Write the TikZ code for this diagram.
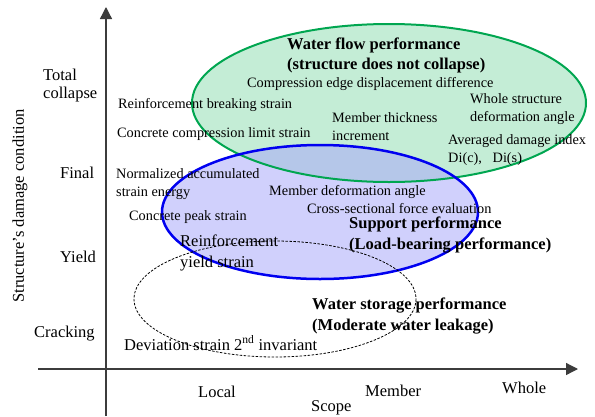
\documentclass[tikz,border=0pt]{standalone}
\usepackage{fontspec}
\setmainfont{Liberation Serif}
\usetikzlibrary{arrows.meta}

\definecolor{flowline}{RGB}{0,166,80}
\definecolor{flowfill}{RGB}{190,235,210}
\definecolor{supportline}{RGB}{0,0,240}
\definecolor{supportfill}{RGB}{170,170,250}
\definecolor{axisgray}{RGB}{60,60,60}

\tikzset{
  txt/.style={inner sep=0pt, anchor=west, align=left,
    font=\fontsize{14.3}{18}\selectfont},
  txtbig/.style={inner sep=0pt, anchor=west, align=left,
    font=\fontsize{16.5}{18}\selectfont},
  txtbold/.style={inner sep=0pt, anchor=west, align=left,
    font=\fontsize{16.5}{20.5}\selectfont\bfseries},
  axisline/.style={draw=axisgray, line width=1.3pt,
    -{Triangle[length=12pt,width=12pt]}},
}

\begin{document}
\begin{tikzpicture}[x=1pt, y=-1pt]
  \useasboundingbox (0,0) rectangle (595,416);

  % axes
  \coordinate (xstart) at (38,369);
  \coordinate (xend) at (578,369);
  \coordinate (ystart) at (106,416);
  \coordinate (yend) at (106,7);
  \draw[axisline] (xstart) -- (xend);
  \draw[axisline] (ystart) -- (yend);

  % performance zones: fills first, outlines on top
  \fill[flowfill, opacity=0.9] (389,103) ellipse [x radius=197, y radius=79];
  \fill[supportfill, fill opacity=0.55] (320,212) ellipse [x radius=158, y radius=67];
  \draw[flowline, line width=2pt] (389,103) ellipse [x radius=197, y radius=79];
  \draw[supportline, line width=2.5pt] (320,212) ellipse [x radius=158, y radius=67];
  \draw[black, line width=0.8pt, dash pattern=on 2.5pt off 1.5pt]
    (275,299) ellipse [x radius=141, y radius=58];

  % damage levels
  \node[txtbig] (lvltotal) at (43,86) {Total\\collapse};
  \node[txtbig] (lvlfinal) at (60,173) {Final};
  \node[txtbig] (lvlyield) at (60,257) {Yield};
  \node[txtbig] (lvlcrack) at (34,334) {Cracking};
  \node[txtbig, anchor=center, rotate=90] (ylabel) at (20,206)
    {Structure's damage condition};

  % scope levels
  \node[txtbig] (sclocal) at (198,392) {Local};
  \node[txtbig] (scmember) at (365,391) {Member};
  \node[txtbig] (scwhole) at (502,388) {Whole};
  \node[txtbig] (xlabel) at (311,408) {Scope};

  % indices
  \node[txtbold] (flowtitle) at (287,55.5)
    {Water flow performance\\(structure does not collapse)};
  \node[txt] (compedge) at (247,84) {Compression edge displacement difference};
  \node[txt] (rebarbreak) at (118,105) {Reinforcement breaking strain};
  \node[txt] (conclimit) at (117,134) {Concrete compression limit strain};
  \node[txt] (thickness) at (332,127) {Member thickness\\increment};
  \node[txt] (wholeangle) at (470,109) {Whole structure\\deformation angle};
  \node[txt] (damageidx) at (448,150.5) {Averaged damage index\\Di(c),\ \ \ Di(s)};
  \node[txt] (strainenergy) at (116,184) {Normalized accumulated\\strain energy};
  \node[txt] (memberangle) at (269,192) {Member deformation angle};
  \node[txt] (sectionforce) at (307,209) {Cross-sectional force evaluation};
  \node[txt] (concpeak) at (129,217) {Concrete peak strain};
  \node[txtbig, font=\fontsize{16.5}{21}\selectfont] (rebaryield) at (180,252.5)
    {Reinforcement\\yield strain};
  \node[txtbold] (supporttitle) at (349,235)
    {Support performance\\(Load-bearing performance)};
  \node[txtbold] (storagetitle) at (312,316)
    {Water storage performance\\(Moderate water leakage)};
  \node[txtbig] (deviation) at (124,343)
    {Deviation strain 2\textsuperscript{nd} invariant};
\end{tikzpicture}
\end{document}
